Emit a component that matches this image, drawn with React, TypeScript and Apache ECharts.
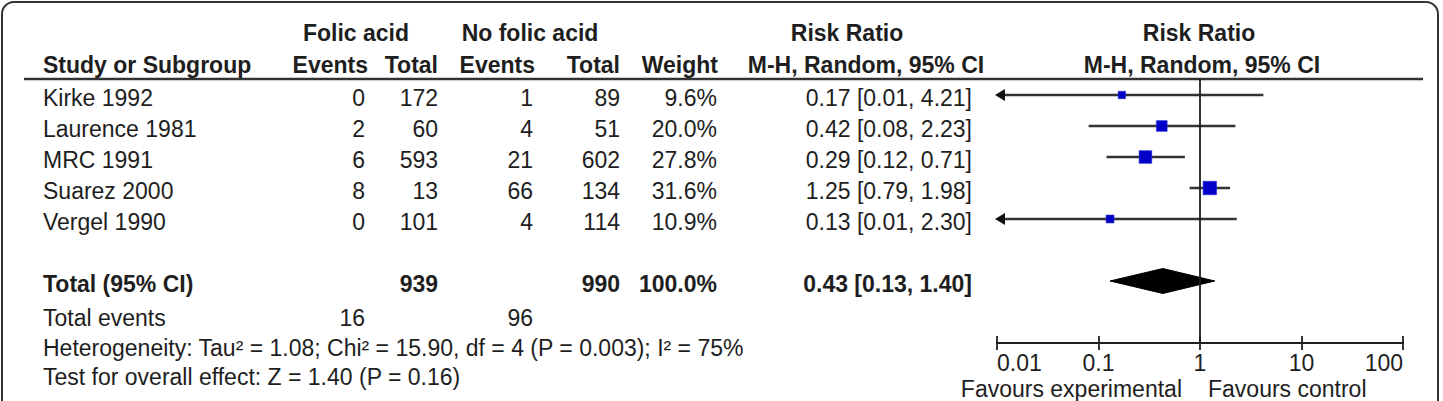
import React, { useEffect, useRef } from "react";
import * as echarts from "echarts";

// ---------- data ----------
const studies = ["Kirke 1992", "Laurence 1981", "MRC 1991", "Suarez 2000", "Vergel 1990"];
const folicEvents = [0, 2, 6, 8, 0];
const folicTotals = [172, 60, 593, 13, 101];
const noFolicEvents = [1, 4, 21, 66, 4];
const noFolicTotals = [89, 51, 602, 134, 114];
const weights = [9.6, 20.0, 27.8, 31.6, 10.9];
const riskRatios = [0.17, 0.42, 0.29, 1.25, 0.13];
const ciLower = [0.01, 0.08, 0.12, 0.79, 0.01];
const ciUpper = [4.21, 2.23, 0.71, 1.98, 2.3];

const totalLabel = "Total (95% CI)";
const pooledFolicTotal = 939;
const pooledNoFolicTotal = 990;
const pooledWeight = 100.0;
const pooledRR = 0.43;
const pooledLower = 0.13;
const pooledUpper = 1.4;
const totalEventsFolic = 16;
const totalEventsNoFolic = 96;
const heterogeneityText =
  "Heterogeneity: Tau\u00b2 = 1.08; Chi\u00b2 = 15.90, df = 4 (P = 0.003); I\u00b2 = 75%";
const overallEffectText = "Test for overall effect: Z = 1.40 (P = 0.16)";

const axisTicks = [0.01, 0.1, 1, 10, 100];
const tickLabels = ["0.01", "0.1", "1", "10", "100"];
const favoursLeft = "Favours experimental";
const favoursRight = "Favours control";

// ---------- layout ----------
const FONT = "'Liberation Sans', Arial, Helvetica, sans-serif";
const FS = 23;
const TXT = "#1e1e1e";
const COL = { study: 43, fEv: 365, fTot: 438, nEv: 533, nTot: 620, weight: 717, rr: 972 };
const ROW_TOTAL = 6;
const ROW_EVENTS = 7.1;
const ROW_HET = 8.05;
const ROW_TEST = 9.0;

const fmtCI = (r: number, l: number, u: number) =>
  `${r.toFixed(2)} [${l.toFixed(2)}, ${u.toFixed(2)}]`;

type Cell = { x: number; row: number; text: string; align: string; bold?: boolean };

function buildCells(): Cell[] {
  const cells: Cell[] = [];
  studies.forEach((s, i) => {
    cells.push({ x: COL.study, row: i, text: s, align: "left" });
    cells.push({ x: COL.fEv, row: i, text: String(folicEvents[i]), align: "right" });
    cells.push({ x: COL.fTot, row: i, text: String(folicTotals[i]), align: "right" });
    cells.push({ x: COL.nEv, row: i, text: String(noFolicEvents[i]), align: "right" });
    cells.push({ x: COL.nTot, row: i, text: String(noFolicTotals[i]), align: "right" });
    cells.push({ x: COL.weight, row: i, text: weights[i].toFixed(1) + "%", align: "right" });
    cells.push({ x: COL.rr, row: i, text: fmtCI(riskRatios[i], ciLower[i], ciUpper[i]), align: "right" });
  });
  cells.push({ x: COL.study, row: ROW_TOTAL, text: totalLabel, align: "left", bold: true });
  cells.push({ x: COL.fTot, row: ROW_TOTAL, text: String(pooledFolicTotal), align: "right", bold: true });
  cells.push({ x: COL.nTot, row: ROW_TOTAL, text: String(pooledNoFolicTotal), align: "right", bold: true });
  cells.push({ x: COL.weight, row: ROW_TOTAL, text: pooledWeight.toFixed(1) + "%", align: "right", bold: true });
  cells.push({ x: COL.rr, row: ROW_TOTAL, text: fmtCI(pooledRR, pooledLower, pooledUpper), align: "right", bold: true });
  cells.push({ x: COL.study, row: ROW_EVENTS, text: "Total events", align: "left" });
  cells.push({ x: COL.fEv, row: ROW_EVENTS, text: String(totalEventsFolic), align: "right" });
  cells.push({ x: COL.nEv, row: ROW_EVENTS, text: String(totalEventsNoFolic), align: "right" });
  cells.push({ x: COL.study, row: ROW_HET, text: heterogeneityText, align: "left" });
  cells.push({ x: COL.study, row: ROW_TEST, text: overallEffectText, align: "left" });
  return cells;
}

const hdr = (text: string, x: number, y: number, align: string, bold = true) => ({
  type: "text",
  x,
  y,
  style: {
    text,
    fill: TXT,
    fontSize: FS,
    fontFamily: FONT,
    fontWeight: bold ? "bold" : "normal",
    align,
    verticalAlign: "middle",
  },
});

export default function App() {
  const ref = useRef<HTMLDivElement>(null);

  useEffect(() => {
    if (!ref.current) return;
    const chart = echarts.init(ref.current, undefined, { renderer: "svg" });
    const cells = buildCells();
    const axisMin = axisTicks[0];
    const axisMax = axisTicks[axisTicks.length - 1];

    const tickFormatter = (v: number) => {
      const idx = axisTicks.findIndex((t) => Math.abs(Math.log10(t) - Math.log10(v)) < 1e-6);
      return idx >= 0 ? tickLabels[idx] : "";
    };

    const option: any = {
      animation: false,
      grid: [
        { left: 997, width: 406, top: 79, height: 264 },
        { left: 0, width: 1443, top: 79, height: 322 },
        { left: 997, width: 406, top: 300, height: 43 },
      ],
      xAxis: [
        {
          type: "log",
          logBase: 10,
          min: axisMin,
          max: axisMax,
          gridIndex: 0,
          position: "bottom",
          axisLine: { show: true, onZero: false, lineStyle: { color: TXT, width: 1.8 } },
          axisTick: { show: true, inside: false, length: 7, lineStyle: { color: TXT, width: 1.8 } },
          splitLine: { show: false },
          minorTick: { show: false },
          axisLabel: {
            show: true,
            formatter: tickFormatter,
            color: TXT,
            fontSize: FS,
            fontFamily: FONT,
            margin: 8,
            alignMinLabel: "left",
            alignMaxLabel: "right",
          },
        },
        { type: "value", gridIndex: 1, min: 0, max: 1443, show: false },
        {
          type: "log",
          logBase: 10,
          min: axisMin,
          max: axisMax,
          gridIndex: 2,
          position: "bottom",
          axisLine: { show: true, onZero: false, lineStyle: { color: TXT, width: 1.8 } },
          axisTick: { show: true, inside: true, length: 7, lineStyle: { color: TXT, width: 1.8 } },
          splitLine: { show: false },
          axisLabel: { show: false },
        },
      ],
      yAxis: [
        { type: "value", gridIndex: 0, inverse: true, min: -0.516, max: 8.0, show: false },
        { type: "value", gridIndex: 1, inverse: true, min: -0.516, max: 9.871, show: false },
        { type: "value", gridIndex: 2, min: 0, max: 1, show: false },
      ],
      graphic: [
        {
          type: "rect",
          shape: { x: 2, y: 2, width: 1436, height: 440, r: 12 },
          style: { fill: "none", stroke: "#333", lineWidth: 2 },
          silent: true,
        },
        {
          type: "line",
          shape: { x1: 24, y1: 79, x2: 1423, y2: 79 },
          style: { stroke: "#333", lineWidth: 2.5 },
        },
        hdr("Folic acid", 356, 33, "center"),
        hdr("No folic acid", 530, 33, "center"),
        hdr("Risk Ratio", 847, 33, "center"),
        hdr("Risk Ratio", 1199, 33, "center"),
        hdr("Study or Subgroup", 43, 65, "left"),
        hdr("Events", 368, 65, "right"),
        hdr("Total", 438, 65, "right"),
        hdr("Events", 535, 65, "right"),
        hdr("Total", 620, 65, "right"),
        hdr("Weight", 718, 65, "right"),
        hdr("M-H, Random, 95% CI", 866, 65, "center"),
        hdr("M-H, Random, 95% CI", 1202, 65, "center"),
        hdr(favoursLeft, 1182, 389, "right", false),
        hdr(favoursRight, 1208, 389, "left", false),
      ],
      series: [
        // table text
        {
          type: "custom",
          xAxisIndex: 1,
          yAxisIndex: 1,
          data: cells.map((c) => [c.x, c.row]),
          encode: { x: 0, y: 1 },
          clip: false,
          silent: true,
          renderItem: (params: any, api: any) => {
            const c = cells[params.dataIndex];
            const p = api.coord([c.x, c.row]);
            return {
              type: "text",
              x: p[0],
              y: p[1] + 3,
              style: {
                text: c.text,
                fill: TXT,
                fontSize: FS,
                fontFamily: FONT,
                fontWeight: c.bold ? "bold" : "normal",
                align: c.align,
                verticalAlign: "middle",
              },
            };
          },
        },
        // vertical line of no effect
        {
          type: "line",
          xAxisIndex: 0,
          yAxisIndex: 0,
          data: [],
          silent: true,
          markLine: {
            silent: true,
            symbol: "none",
            label: { show: false },
            lineStyle: { color: TXT, width: 1.8, type: "solid" },
            data: [{ xAxis: 1 }],
          },
        },
        // study CIs and squares
        {
          type: "custom",
          xAxisIndex: 0,
          yAxisIndex: 0,
          silent: true,
          clip: false,
          data: studies.map((_, i) => [riskRatios[i], i, ciLower[i], ciUpper[i], weights[i]]),
          encode: { x: 0, y: 1 },
          renderItem: (params: any, api: any) => {
            const rr = api.value(0);
            const row = api.value(1);
            const lo = api.value(2);
            const hi = api.value(3);
            const w = api.value(4);
            const c = api.coord([rr, row]);
            const l = api.coord([Math.max(lo, axisMin), row]);
            const h = api.coord([Math.min(hi, axisMax), row]);
            const y = c[1];
            const children: any[] = [];
            const clippedLow = lo <= axisMin;
            children.push({
              type: "line",
              shape: { x1: clippedLow ? l[0] + 2 : l[0], y1: y, x2: h[0], y2: y },
              style: { stroke: "#333", lineWidth: 2.5 },
            });
            if (clippedLow) {
              children.push({
                type: "polygon",
                shape: { points: [[l[0] - 2, y], [l[0] + 8, y - 6], [l[0] + 8, y + 6]] },
                style: { fill: "#111" },
              });
            }
            const s = 2.4 * Math.sqrt(w);
            children.push({
              type: "rect",
              shape: { x: c[0] - s / 2, y: y - s / 2, width: s, height: s },
              style: { fill: "#0000c8", stroke: "#2b2bd9", lineWidth: 0.6 },
            });
            return { type: "group", children };
          },
        },
        // pooled diamond
        {
          type: "custom",
          xAxisIndex: 0,
          yAxisIndex: 0,
          silent: true,
          clip: false,
          data: [[pooledRR, ROW_TOTAL, pooledLower, pooledUpper]],
          encode: { x: 0, y: 1 },
          renderItem: (params: any, api: any) => {
            const c = api.coord([api.value(0), api.value(1)]);
            const l = api.coord([api.value(2), api.value(1)]);
            const h = api.coord([api.value(3), api.value(1)]);
            const hh = 12.5;
            return {
              type: "polygon",
              shape: {
                points: [
                  [l[0], c[1]],
                  [c[0], c[1] - hh],
                  [h[0], c[1]],
                  [c[0], c[1] + hh],
                ],
              },
              style: { fill: "#000", stroke: "#000", lineWidth: 1 },
            };
          },
        },
      ],
    };

    chart.setOption(option);
    return () => chart.dispose();
  }, []);

  return (
    <div
      ref={ref}
      style={{ position: "fixed", left: 0, top: 0, width: 1443, height: 401, background: "#fff" }}
    />
  );
}
